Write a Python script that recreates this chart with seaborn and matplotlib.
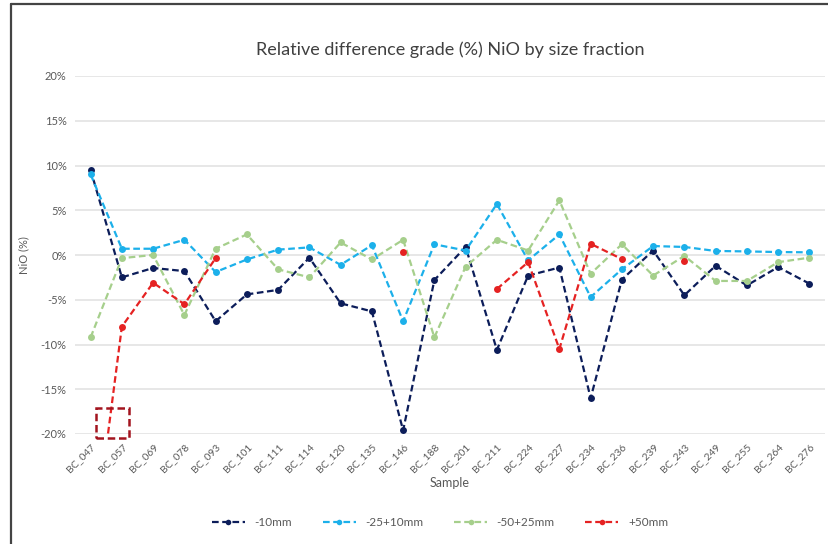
import numpy as np
import pandas as pd
import matplotlib
matplotlib.use("Agg")
import matplotlib.pyplot as plt
from matplotlib.lines import Line2D
from matplotlib.patches import Rectangle
import seaborn as sns

samples = ["BC_047", "BC_057", "BC_069", "BC_078", "BC_093", "BC_101", "BC_111", "BC_114",
           "BC_120", "BC_135", "BC_146", "BC_188", "BC_201", "BC_211", "BC_224", "BC_227",
           "BC_234", "BC_236", "BC_239", "BC_243", "BC_249", "BC_255", "BC_264", "BC_276"]

minus10 = [9.5, -2.5, -1.45, -1.8, -7.4, -4.4, -3.9, -0.3, -5.4, -6.3, -19.6, -2.8,
           0.9, -10.6, -2.3, -1.4, -16.0, -2.75, 0.5, -4.5, -1.2, -3.4, -1.35, -3.2]
minus25plus10 = [9.0, 0.7, 0.7, 1.7, -1.9, -0.5, 0.6, 0.85, -1.1, 1.1, -7.4, 1.2,
                 0.5, 5.7, -0.6, 2.3, -4.7, -1.6, 1.0, 0.9, 0.45, 0.4, 0.33, 0.3]
minus50plus25 = [-9.2, -0.35, 0.0, -6.7, 0.7, 2.3, -1.6, -2.5, 1.4, -0.5, 1.7, -9.2,
                 -1.3, 1.7, 0.5, 6.1, -2.1, 1.2, -2.3, -0.1, -2.9, -2.9, -0.8, -0.3]
plus50 = [-35.0, -8.0, -3.1, -5.5, -0.35, np.nan, np.nan, np.nan, np.nan, np.nan, 0.3, np.nan,
          np.nan, -3.8, -0.8, -10.5, 1.25, -0.45, np.nan, -0.65, np.nan, np.nan, np.nan, np.nan]

series_names = ["-10mm", "-25+10mm", "-50+25mm", "+50mm"]
series_values = [minus10, minus25plus10, minus50plus25, plus50]
colors = ["#0c1d5a", "#1cb0ea", "#a6cf8c", "#e52222"]
y_ticks = [-20, -15, -10, -5, 0, 5, 10, 15, 20]

# Long-form table; each unbroken run of values gets its own unit so gaps stay open
rows = []
for name, vals in zip(series_names, series_values):
    seg = 0
    prev_nan = True
    for i, v in enumerate(vals):
        if np.isnan(v):
            prev_nan = True
            continue
        if prev_nan:
            seg += 1
            prev_nan = False
        rows.append({"pos": i, "value": v, "series": name, "segment": f"{name}_{seg}"})
df = pd.DataFrame(rows)

sns.set_theme(style="white")
plt.rcParams["font.family"] = ["Lato", "DejaVu Sans"]
text_color = "#595959"

fig = plt.figure(figsize=(8.29, 5.44), dpi=100)
ax = fig.add_axes([75 / 829, 1 - 434 / 544, 750 / 829, 358 / 544])

sns.lineplot(data=df, x="pos", y="value", hue="series", units="segment",
             estimator=None, hue_order=series_names, palette=colors,
             marker="o", markersize=5, markeredgewidth=0, linewidth=1.6,
             dashes=False, legend=False, ax=ax)
for line in ax.get_lines():
    line.set_linestyle((0, (3, 1.6)))

ax.set_xlim(-0.5, len(samples) - 0.5)
ax.set_ylim(-20, 20)
ax.set_yticks(y_ticks)
ax.set_yticklabels([f"{t}%" for t in y_ticks], fontsize=8, color=text_color)
ax.set_xticks(range(len(samples)))
ax.set_xticklabels(samples, rotation=45, ha="right", rotation_mode="anchor",
                   fontsize=7.5, color=text_color)
ax.tick_params(axis="both", length=0, pad=6)
ax.grid(axis="y", color="#e3e3e3", linewidth=1.2)
ax.grid(axis="x", visible=False)
for sp in ax.spines.values():
    sp.set_visible(False)

ax.set_xlabel("Sample", fontsize=9, color=text_color, labelpad=2)
ax.set_ylabel("NiO (%)", fontsize=8, color=text_color, labelpad=8)
ax.set_title("Relative difference grade (%) NiO by size fraction",
             fontsize=13, color="#404040", pad=15)

# Highlight box around the clipped point
ax.add_patch(Rectangle((0.17, -20.5), 1.06, 3.4, fill=False, edgecolor="#a3141e",
                       linewidth=1.8, linestyle=(0, (3, 1.5)), clip_on=False, zorder=5))

handles = [Line2D([0], [0], color=c, linestyle=(0, (3, 1.6)), linewidth=1.6,
                  marker="o", markersize=4, markeredgewidth=0)
           for c in colors]
fig.legend(handles, series_names, loc="center", bbox_to_anchor=(440 / 829, 1 - 523 / 544),
           ncol=4, frameon=False, fontsize=8.5, labelcolor=text_color,
           handlelength=2.8, columnspacing=2.6, handletextpad=0.8)

# Chart frame on the left and top
fig.add_artist(Line2D([11 / 829, 11 / 829], [0, 1 - 4 / 544], transform=fig.transFigure,
                      color="#444444", linewidth=1.6))
fig.add_artist(Line2D([11 / 829, 1], [1 - 4 / 544, 1 - 4 / 544], transform=fig.transFigure,
                      color="#444444", linewidth=1.6))

fig.savefig("out.png", dpi=100)
